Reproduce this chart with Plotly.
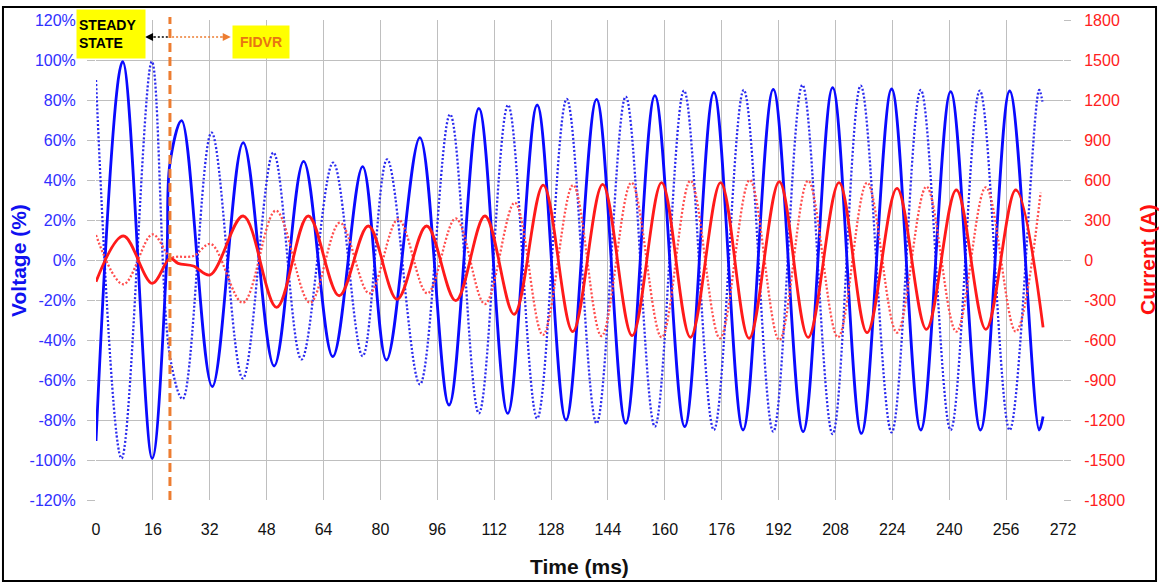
import plotly.graph_objects as go

# ---------------- data (time in ms) ----------------
# Phase voltage, solid blue (% of nominal)
va_t = [0, 7.5, 15.8, 19.9, 20.8, 24.1, 32.7, 41.4, 50.1, 58.4, 66.6, 75.0, 81.7, 91.1,
        99.3, 107.7, 115.8, 124.1, 132.2, 140.8, 149.0, 157.2, 165.6, 173.8, 182.0,
        190.5, 198.9, 207.2, 215.3, 223.8, 232.0, 240.4, 248.8, 257.0, 265.3, 266.4]
va_v = [-90.5, 99.2, -99.2, 0, 48.3, 69.7, -63.3, 58.7, -53, 49.3, -48.3, 46.7, -50, 61.2,
        -72.5, 75.8, -76.7, 77.5, -80, 80.3, -81.7, 82.2, -83.3, 83.8, -85,
        85.3, -85.8, 86.2, -86.7, 85.5, -85, 84.2, -85, 84.5, -85, -78.3]

# Phase voltage, dotted blue (%)
vb_t = [0, 7.2, 15.7, 20.8, 24.4, 32.5, 41.3, 49.9, 57.8, 66.7, 75.0, 81.9, 91.1, 99.6,
        107.7, 115.9, 124.1, 132.4, 140.8, 149.0, 157.2, 165.4, 173.8, 182.2, 190.5,
        198.7, 207.2, 215.1, 223.8, 232.0, 240.4, 248.6, 257.0, 265.3, 266.2]
vb_v = [90, -99.2, 99.2, -48.3, -69.5, 63.7, -59.2, 53.7, -49.7, 48.7, -48, 50.3, -62.2, 72.8,
        -76.7, 77.5, -79.2, 80.5, -81.7, 81.7, -83.3, 84.7, -85, 85, -85.8,
        87.5, -87, 87.2, -86.2, 85, -85, 84.7, -85, 85, 79.2]

# Current, solid red (A)
ia_t = [0, 7.7, 15.8, 20.8, 23.1, 27.4, 32.1, 41.4, 50.8, 59.7, 68.4, 76.6, 84.7, 93.0,
        101.2, 109.4, 117.6, 125.8, 134.1, 142.5, 150.8, 159.1, 167.2, 175.7, 183.7,
        192.2, 200.3, 209.0, 216.9, 225.3, 233.6, 242.0, 250.3, 258.7, 266.4]
ia_a = [-163, 180, -175, 13, -25, -45, -112, 330, -355, 330, -268, 255, -295, 255,
        -305, 330, -407, 562, -537, 567, -567, 580, -580, 580, -587,
        587, -580, 580, -545, 537, -520, 525, -520, 525, -505]

# Current, dotted red (A)
ib_t = [0, 7.7, 15.9, 20.8, 23.1, 27.4, 32.3, 41.3, 50.6, 60.2, 68.6, 76.9, 85.0, 93.2,
        101.2, 109.4, 117.8, 125.7, 134.2, 142.2, 150.6, 159.1, 167.2, 175.5, 183.9,
        192.2, 200.3, 208.7, 216.9, 225.3, 233.6, 242.0, 250.3, 258.7, 265.7]
ib_a = [187, -182, 192, 25, 25, 30, 120, -320, 370, -320, 280, -250, 305, -250,
        312, -330, 430, -562, 562, -570, 580, -580, 595, -587, 600,
        -600, 595, -580, 580, -545, 550, -537, 545, -537, 505]

# Axis ticks
x_ticks = [0, 16, 32, 48, 64, 80, 96, 112, 128, 144, 160, 176, 192, 208, 224, 240, 256, 272]
v_ticks = [-120, -100, -80, -60, -40, -20, 0, 20, 40, 60, 80, 100, 120]
v_labels = ["-120%", "-100%", "-80%", "-60%", "-40%", "-20%", "0%", "20%", "40%", "60%",
            "80%", "100%", "120%"]
i_ticks = [-1800, -1500, -1200, -900, -600, -300, 0, 300, 600, 900, 1200, 1500, 1800]
i_labels = ["-1800", "-1500", "-1200", "-900", "-600", "-300", "0", "300", "600", "900",
            "1200", "1500", "1800"]

FAULT_MS = 20.8

# ---------------- figure ----------------
FONT = "Liberation Sans, Arial, sans-serif"
BLUE = "#0A0AFF"
RED = "#FF1A1A"
GRID = "#BFBFBF"

fig = go.Figure()
fig.add_trace(go.Scatter(x=vb_t, y=vb_v, mode="lines", line_shape="spline",
                         line=dict(color="#2A2AEE", width=2.3, dash="2px,2px"),
                         showlegend=False, hoverinfo="skip"))
fig.add_trace(go.Scatter(x=ib_t, y=ib_a, yaxis="y2", mode="lines", line_shape="spline",
                         line=dict(color="#FF4D4D", width=2.3, dash="2px,2px"),
                         showlegend=False, hoverinfo="skip"))
fig.add_trace(go.Scatter(x=va_t, y=va_v, mode="lines", line_shape="spline",
                         line=dict(color=BLUE, width=2.8),
                         showlegend=False, hoverinfo="skip"))
fig.add_trace(go.Scatter(x=ia_t, y=ia_a, yaxis="y2", mode="lines", line_shape="spline",
                         line=dict(color=RED, width=2.8),
                         showlegend=False, hoverinfo="skip"))

fig.update_layout(
    width=1159, height=585,
    margin=dict(l=96, r=96, t=20, b=85, pad=0),
    paper_bgcolor="white", plot_bgcolor="white",
    font=dict(family=FONT),
    xaxis=dict(range=[0, 272], tickvals=x_ticks, showgrid=True, gridcolor=GRID, gridwidth=1,
               zeroline=False, showline=False, ticks="",
               tickfont=dict(size=16, color="#111111", family=FONT),
               ticklabelstandoff=18),
    yaxis=dict(range=[-120, 120], tickvals=v_ticks, ticktext=v_labels,
               showgrid=True, gridcolor=GRID, gridwidth=1, zeroline=False, showline=False,
               ticks="outside", ticklen=8, tickcolor=GRID,
               tickfont=dict(size=16, color="#2F2FFF", family=FONT),
               ticklabelstandoff=8),
    yaxis2=dict(range=[-1800, 1800], tickvals=i_ticks, ticktext=i_labels,
                overlaying="y", side="right", showgrid=False, zeroline=False, showline=False,
                ticks="outside", ticklen=7, tickcolor=GRID,
                tickfont=dict(size=16, color="#FF2020", family=FONT),
                ticklabelstandoff=10),
)

# outer frame
fig.add_shape(type="rect", xref="paper", yref="paper",
              x0=-0.0962, x1=1.0962, y0=-0.1688, y1=1.0271,
              line=dict(color="black", width=2), fillcolor="rgba(0,0,0,0)", layer="above")

# fault instant
fig.add_shape(type="line", xref="x", yref="paper", x0=FAULT_MS, x1=FAULT_MS, y0=0, y1=1.006,
              line=dict(color="#ED7D31", width=3, dash="9px,5px"), layer="above")

# arrows
fig.add_shape(type="line", xref="x", yref="paper", x0=20.2, x1=14.6, y0=0.9646, y1=0.9646,
              line=dict(color="black", width=1.6, dash="2px,2px"))
fig.add_annotation(x=13.8, y=0.9646, xref="x", yref="paper", text="", showarrow=True,
                   ax=10, ay=0, arrowhead=2, arrowsize=1, arrowwidth=1.6, arrowcolor="black")
fig.add_shape(type="line", xref="x", yref="paper", x0=21.4, x1=37.0, y0=0.9646, y1=0.9646,
              line=dict(color="#ED7D31", width=1.6, dash="2px,2px"))
fig.add_annotation(x=37.9, y=0.9646, xref="x", yref="paper", text="", showarrow=True,
                   ax=-10, ay=0, arrowhead=2, arrowsize=1, arrowwidth=1.6, arrowcolor="#ED7D31")

# labels
fig.add_annotation(x=-0.0207, y=1.0229, xref="paper", yref="paper", xanchor="left", yanchor="top",
                   text="<b>STEADY<br>STATE</b>", showarrow=False, align="left",
                   width=64, height=44, borderpad=2, bgcolor="#FFFF00",
                   font=dict(size=14, color="black", family=FONT))
fig.add_annotation(x=0.1406, y=0.9896, xref="paper", yref="paper", xanchor="left", yanchor="top",
                   text="<b>FIDVR</b>", showarrow=False, align="center",
                   width=52, height=28, borderpad=2, bgcolor="#FFFF00",
                   font=dict(size=14, color="#E87511", family=FONT))

# axis titles
fig.add_annotation(x=0.5, y=-0.1375, xref="paper", yref="paper", xanchor="center", yanchor="middle",
                   text="<b>Time (ms)</b>", showarrow=False,
                   font=dict(size=21, color="#111111", family=FONT))
fig.add_annotation(x=-0.0807, y=0.5, xref="paper", yref="paper", xanchor="center", yanchor="middle",
                   text="<b>Voltage (%)</b>", showarrow=False, textangle=-90,
                   font=dict(size=21, color="#1010F0", family=FONT))
fig.add_annotation(x=1.0869, y=0.5, xref="paper", yref="paper", xanchor="center", yanchor="middle",
                   text="<b>Current (A)</b>", showarrow=False, textangle=-90,
                   font=dict(size=21, color="#FF1010", family=FONT))

fig.write_html("out.html", config={"displayModeBar": False},
               post_script="document.body.style.margin='0px';")
